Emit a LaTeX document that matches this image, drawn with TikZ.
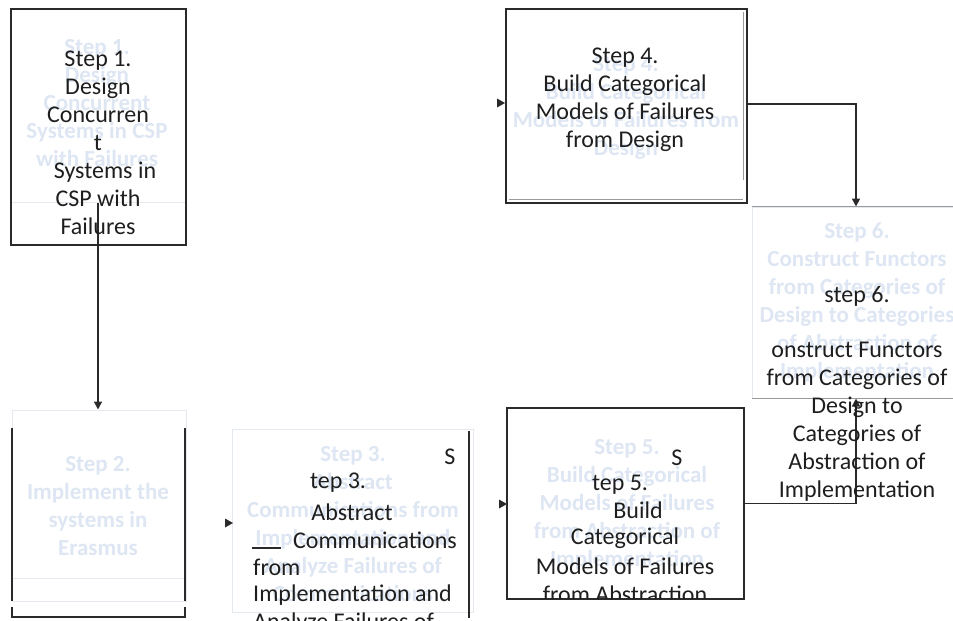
\documentclass[tikz,border=0pt]{standalone}
\usepackage{fontspec}
\setmainfont{Carlito}
\usetikzlibrary{arrows.meta}
\definecolor{fadetext}{HTML}{DDE6F2}
\definecolor{fadeline}{HTML}{E4E9F0}
\definecolor{midline}{HTML}{9A9A9A}
\definecolor{ink}{HTML}{1E1E1E}
\definecolor{wire}{HTML}{2A2A2A}
\begin{document}
\begin{tikzpicture}[x=1pt,y=-1pt,
  blk/.style={font=\fontsize{24}{28}\selectfont, text=ink, inner sep=0pt, align=center},
  blkl/.style={font=\fontsize{24}{28}\selectfont, text=ink, inner sep=0pt, anchor=west},
  fade/.style={font=\fontsize{23}{28}\selectfont\bfseries, text=fadetext, inner sep=0pt, align=center},
  box/.style={draw=wire, line width=2pt, inner sep=0pt},
  fbox/.style={draw=fadeline, line width=1pt, inner sep=0pt},
  conn/.style={draw=wire, line width=1.6pt, -{Triangle[length=8pt,width=8pt]}},
  tipfill/.style={fill=wire},
]
\clip (0,0) rectangle (953,621);
\useasboundingbox (0,0) rectangle (953,621);

% ---------- faded background boxes ----------
\node[fbox, minimum width=174, minimum height=191] (s2) at (99,505.5) {};
\node[fbox, minimum width=241, minimum height=183] (s3) at (352.5,520.5) {};
\node[fbox, minimum width=208, minimum height=191] (s6) at (856,302.5) {};
\draw[midline, line width=1pt] (s6.north west) -- (s6.north east);
\draw[midline, line width=1pt] (s6.south west) -- (s6.south east);
\draw[fadeline, line width=1pt] (12,202) -- (185,202);
\draw[fadeline, line width=1pt] (12,578) -- (185,578);

% ---------- faded texts ----------
\node[fade] (f1) at (97,103) {Step 1.\\Design\\Concurrent\\Systems in CSP\\with Failures};
\node[fade] (f2) at (98,506) {Step 2.\\Implement the\\systems in\\Erasmus};
\node[fade] (f3) at (353,524) {Step 3.\\Abstract\\Communications from\\Implementation and\\Analyze Failures of\\Communications};
\node[fade] (f4) at (626,108) {Step 4.\\Build Categorical\\Models of Failures from\\Design};
\node[fade] (f5) at (627,505) {Step 5.\\Build Categorical\\Models of Failures\\from Abstraction of\\Implementation};
\node[fade] (f6) at (857,302) {Step 6.\\Construct Functors\\from Categories of\\Design to Categories\\of Abstraction of\\Implementation};

% ---------- black boxes ----------
\node[box, minimum width=175, minimum height=236] (s1) at (98,127) {};
\node[box, minimum width=241, minimum height=194] (s4) at (626.5,106) {};
\draw[midline, line width=1pt] (743,12) -- (743,180);
\draw[midline, line width=1pt] (509,199.5) -- (743,199.5);
\node[box, minimum width=237, minimum height=191] (s5) at (625,503.5) {};

% step 2 partial outline
\draw[wire, line width=2pt] (12,428) -- (12,601);
\draw[wire, line width=2pt] (185,428) -- (185,601);
\draw[wire, line width=2pt] (12,607) -- (12,617) -- (185,617) -- (185,607);
% step 3 right edge
\draw[wire, line width=1.5pt] (469,431) -- (469,618);

% ---------- connectors ----------
\coordinate (c1a) at (98,203);
\draw[conn] (c1a) -- (c1a |- s2.north);
\draw[conn] ([yshift=2pt]s4.east) -| (s6.north);
\draw[conn] (s5.east) -| (s6.south);

% lone arrow heads
\coordinate (t3) at (233,523);
\coordinate (t4) at (505,103);
\coordinate (t5) at (507,504);
\fill[tipfill] (t3) -- ++(-8,-4.5) -- ++(0,9) -- cycle;
\fill[tipfill] (t4) -- ++(-8,-4.5) -- ++(0,9) -- cycle;
\fill[tipfill] (t5) -- ++(-8,-4.5) -- ++(0,9) -- cycle;

% ---------- black texts ----------
\node[blk] (b1) at (98,143) {Step 1.\\Design\\Concurren\\t\\\hspace*{14pt}Systems in\\CSP with\\Failures};
\node[blk] (b4) at (625,100) {Step 4.\\Build Categorical\\Models of Failures\\from Design};

\node[blk] (b3s) at (450,457) {S};
\node[blk] (b3a) at (338,483) {tep 3.};
\node[blk] (b3b) at (352,512) {Abstract};
\node[blk] (b3c) at (375,540) {Communications};
\node[blkl] (b3d) at (253,567) {from};
\node[blkl] (b3e) at (253,595) {Implementation and};
\node[blkl] (b3f) at (253,623) {Analyze Failures of};
\draw[wire, line width=1.5pt] (252,548) -- (281,548);

\node[blk] (b5s) at (677,458) {S};
\node[blk] (b5a) at (620,485) {tep 5.};
\node[blk] (b5b) at (638,510) {Build};
\node[blk] (b5c) at (625,538) {Categorical};
\node[blk] (b5d) at (625,566) {Models of Failures};
\begin{scope}
\clip (507,408) rectangle (743,598);
\node[blk] (b5e) at (625,594) {from Abstraction};
\end{scope}

\node[blk] (b6a) at (857,296) {step 6.};
\node[blk] (b6b) at (857,422) {onstruct Functors\\from Categories of\\Design to\\Categories of\\Abstraction of\\Implementation};
\end{tikzpicture}
\end{document}
